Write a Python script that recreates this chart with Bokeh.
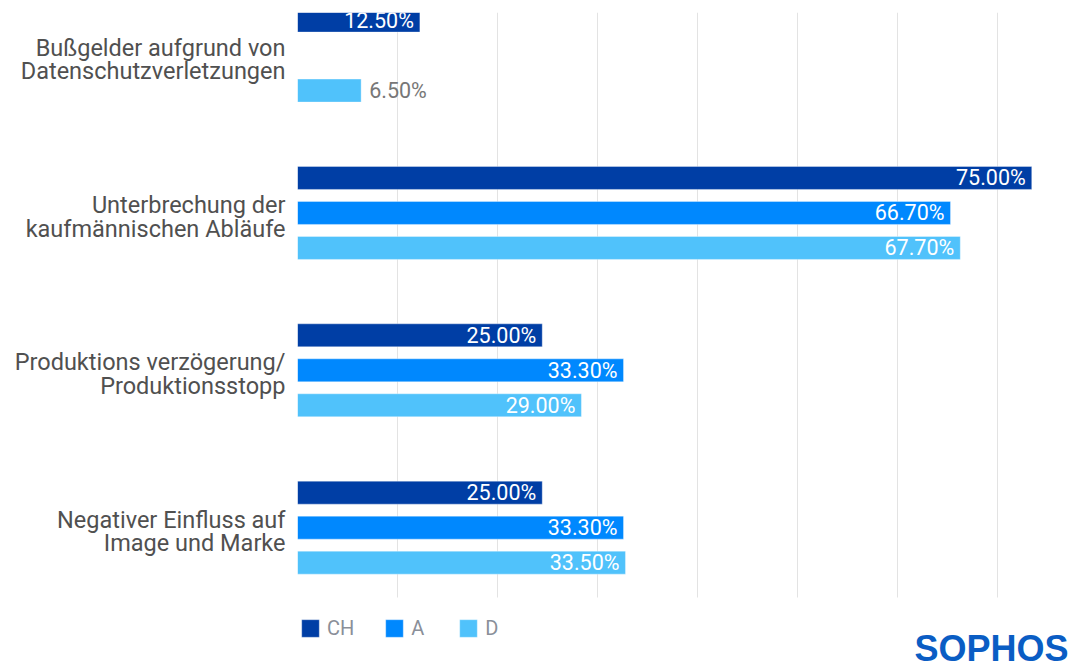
from bokeh.plotting import figure
from bokeh.models import Range1d, FixedTicker, ColumnDataSource, Legend, LegendItem
from bokeh.core.properties import value
from bokeh.embed import file_html
from bokeh.resources import INLINE

categories = ["Bußgelder aufgrund von\nDatenschutzverletzungen",
              "Unterbrechung der\nkaufmännischen Abläufe",
              "Produktions verzögerung/\nProduktionsstopp",
              "Negativer Einfluss auf\nImage und Marke"]
series = ["CH", "A", "D"]
ch_values = [12.5, 75.0, 25.0, 25.0]
a_values = [None, 66.7, 33.3, 33.3]
d_values = [6.5, 67.7, 29.0, 33.5]
colors = ["#003ea5", "#0088fe", "#50c2fb"]

FONT = "Roboto"
px_per_unit = 9.79
px_per_group = 157.35
first_center = 55.1
left_border, right_border, top_border = 297, 0, 12
W, H = 1084, 666
frame_w = W - left_border - right_border
x_end = frame_w / px_per_unit
y_top = (top_border - first_center) / px_per_group
y_bottom = (H - first_center) / px_per_group
grid_bottom = (597 - first_center) / px_per_group
label_shift = 0.025

p = figure(width=W, height=H, output_backend="svg", toolbar_location=None,
           x_range=Range1d(0, x_end), y_range=Range1d(y_bottom, y_top),
           min_border_left=left_border, min_border_right=right_border,
           min_border_top=top_border, min_border_bottom=0)
p.outline_line_color = None
p.background_fill_color = "white"
p.border_fill_color = "white"

p.xaxis.visible = False
p.xgrid.ticker = FixedTicker(ticks=[k * 100 / px_per_unit for k in range(8)])
p.xgrid.grid_line_color = "#e3e3e3"
p.xgrid.grid_line_width = 1
p.xgrid.cross_bounds = (grid_bottom, y_top)
p.ygrid.visible = False

tick_pos = [i + label_shift for i in range(len(categories))]
p.yaxis.ticker = FixedTicker(ticks=tick_pos)
p.yaxis.major_label_overrides = {t: c for t, c in zip(tick_pos, categories)}
p.yaxis.axis_line_color = None
p.yaxis.major_tick_line_color = None
p.yaxis.minor_tick_line_color = None
p.yaxis.major_label_standoff = 6
p.yaxis.major_label_text_font = FONT
p.yaxis.major_label_text_font_size = "23.5px"
p.yaxis.major_label_text_line_height = 0.85
p.yaxis.major_label_text_color = "#505050"

bar_h = 0.146
dodge = 0.2224
offsets = [-dodge, 0.0, dodge]
renderers = []
for s, vals, col, off in zip(series, [ch_values, a_values, d_values], colors, offsets):
    ys, xs, labels = [], [], []
    for i, v in enumerate(vals):
        if v is None:
            continue
        ys.append(i + off)
        xs.append(v)
        labels.append(f"{v:.2f}%")
    src = ColumnDataSource(dict(y=ys, right=xs, label=labels))
    r = p.hbar(y="y", left=0, right="right", height=bar_h, source=src,
               fill_color=col, line_color="white", line_alpha=0.35, line_width=1)
    renderers.append(r)
    inside = ColumnDataSource(dict(y=[y for y, x in zip(ys, xs) if x >= 10],
                                   x=[x for x in xs if x >= 10],
                                   label=[l for l, x in zip(labels, xs) if x >= 10]))
    outside = ColumnDataSource(dict(y=[y for y, x in zip(ys, xs) if x < 10],
                                    x=[x for x in xs if x < 10],
                                    label=[l for l, x in zip(labels, xs) if x < 10]))
    p.text(x="x", y="y", text="label", source=inside, x_offset=-6, text_align="right",
           text_baseline="middle", text_color="white", text_font=value(FONT),
           text_font_size="21.5px")
    p.text(x="x", y="y", text="label", source=outside, x_offset=8, text_align="left",
           text_baseline="middle", text_color="#777777", text_font=value(FONT),
           text_font_size="21.5px")

legend = Legend(items=[LegendItem(label=s, renderers=[r]) for s, r in zip(series, renderers)],
                location=(2, 26), orientation="horizontal",
                glyph_width=22, glyph_height=22, label_height=22, label_width=17,
                label_standoff=6, spacing=29, padding=0, margin=0,
                label_text_font=FONT, label_text_font_size="20px",
                label_text_color="#8a8f99", background_fill_alpha=0,
                border_line_color=None)
p.add_layout(legend, "center")

logo_src = ColumnDataSource(dict(x=[(914 - left_border) / px_per_unit],
                                 y=[(648 - first_center) / px_per_group],
                                 t=["SOPHOS"]))
p.text(x="x", y="y", text="t", source=logo_src, text_font=value("Liberation Sans"),
       text_font_style="bold", text_font_size="36px", text_color="#0a5dc4",
       text_baseline="middle", text_align="left")

open("out.html", "w").write(file_html(p, INLINE))
